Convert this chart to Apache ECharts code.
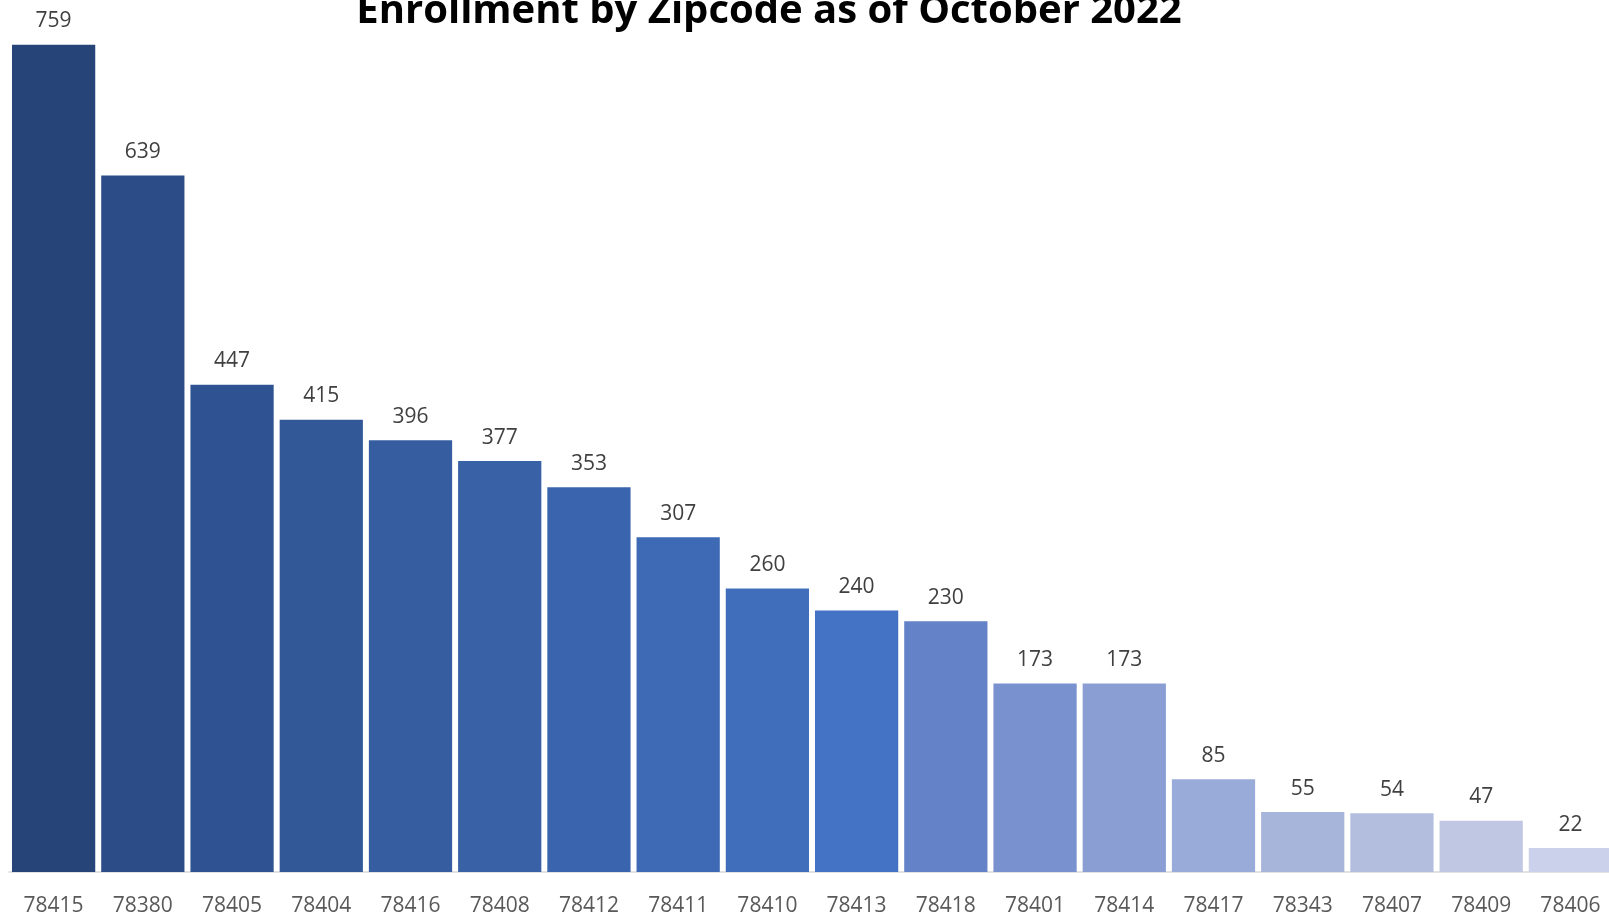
<!DOCTYPE html>
<html>
<head>
<meta charset="utf-8">
<script src="https://cdn.jsdelivr.net/npm/echarts@6/dist/echarts.min.js"></script>
<style>html,body{margin:0;padding:0;background:#fff;overflow:hidden;}#chart{width:1630px;height:917px;}</style>
</head>
<body>
<div id="chart"></div>
<script>
const titleText = 'Enrollment by Zipcode as of October 2022';
const zipcodes = ['78415','78380','78405','78404','78416','78408','78412','78411','78410','78413','78418','78401','78414','78417','78343','78407','78409','78406'];
const enrollment = [759,639,447,415,396,377,353,307,260,240,230,173,173,85,55,54,47,22];
const barColors = ['#264478','#2b4c87','#2f5392','#325897','#355d9f','#3861a6','#3a64ad','#3d69b5','#406ebb','#4472c4','#6482c8','#7a91cf','#8a9ed3','#99abd8','#a7b5db','#b3bedf','#bfc7e3','#cbd1ea'];

const chart = echarts.init(document.getElementById('chart'));
chart.setOption({
  animation: false,
  title: {
    text: titleText,
    left: 764, textAlign: 'center', top: -13,
    textStyle: { fontFamily: 'Open Sans', fontWeight: 'bold', fontSize: 40, color: '#000' }
  },
  grid: { left: 9, width: 1606, top: 0, bottom: 45, containLabel: false },
  xAxis: {
    type: 'category', data: zipcodes,
    axisLine: { lineStyle: { color: '#d9d9d9', width: 1.5 } },
    axisTick: { show: false },
    axisLabel: { color: '#595959', fontFamily: 'Open Sans', fontSize: 21, margin: 24 }
  },
  yAxis: { type: 'value', min: 0, max: 800, show: false, splitLine: { show: false } },
  series: [{
    type: 'bar',
    data: enrollment.map((v, i) => ({ value: v, itemStyle: { color: barColors[i] } })),
    barCategoryGap: '6.7%',
    label: { show: true, position: 'top', distance: 13, color: '#404040', fontFamily: 'Open Sans', fontSize: 21 }
  }]
});
</script>
</body>
</html>
